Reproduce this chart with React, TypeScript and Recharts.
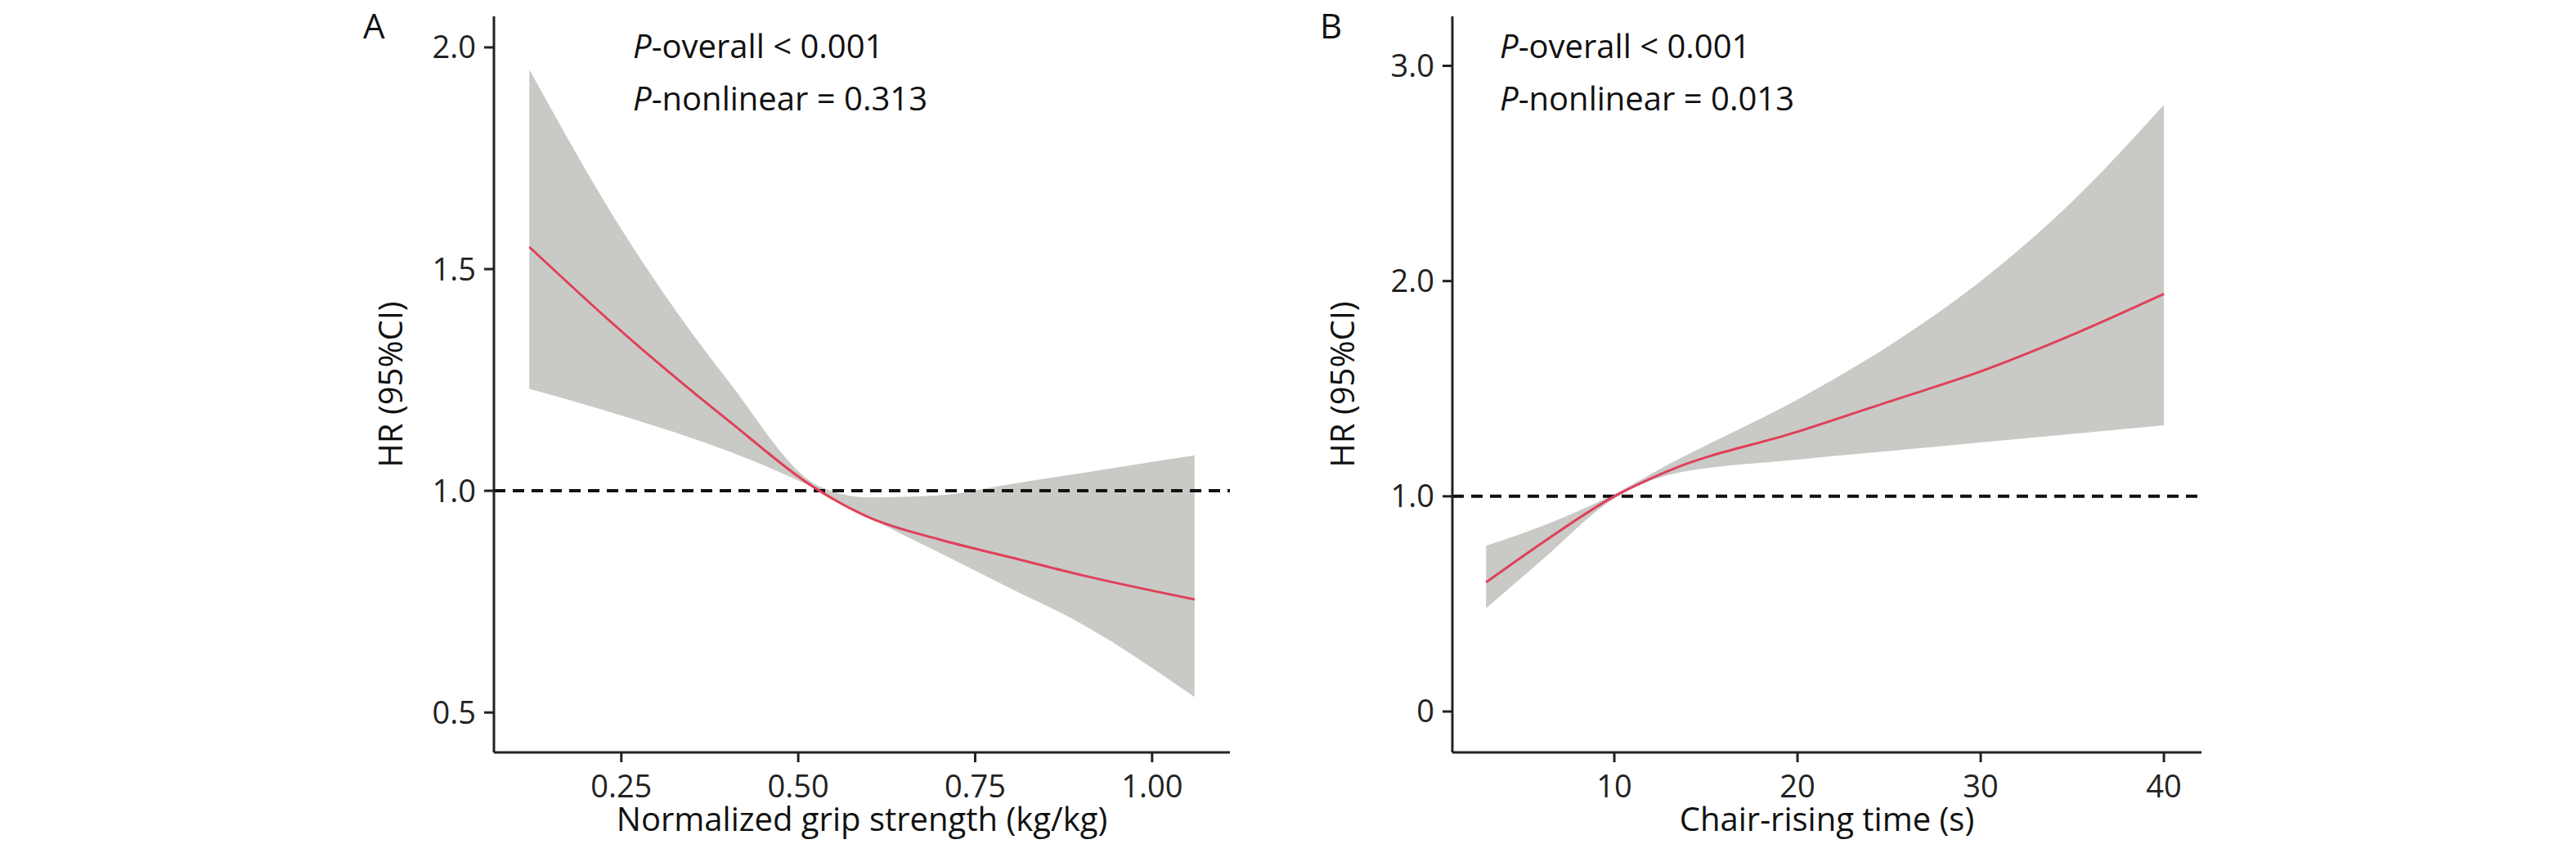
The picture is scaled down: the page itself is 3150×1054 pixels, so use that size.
import { ComposedChart, Area, Line, XAxis, YAxis, ReferenceLine } from "recharts";

const gripX = [0.12, 0.25, 0.4, 0.53, 0.6, 0.7, 0.8, 0.9, 1.06];
const gripHR = [1.55, 1.36, 1.16, 1.0, 0.94, 0.89, 0.85, 0.81, 0.755];
const gripLow = [1.23, 1.17, 1.09, 1.0, 0.94, 0.86, 0.78, 0.7, 0.535];
const gripHigh = [1.95, 1.59, 1.25, 1.01, 0.985, 0.99, 1.015, 1.04, 1.08];

const chairX = [3, 6, 10, 13, 20, 25, 30, 35, 40];
const chairHR = [0.6, 0.78, 1.0, 1.12, 1.3, 1.44, 1.58, 1.75, 1.94];
const chairLow = [0.48, 0.7, 0.99, 1.1, 1.17, 1.21, 1.25, 1.29, 1.33];
const chairHigh = [0.77, 0.86, 1.01, 1.15, 1.45, 1.7, 2.0, 2.37, 2.82];

const gripTicks = [0.25, 0.5, 0.75, 1.0];
const gripYTicks = [0.5, 1.0, 1.5, 2.0];
const chairTicks = [10, 20, 30, 40];
const chairYTicks = [0, 1, 2, 3];

const font = "'Open Sans', sans-serif";

function build(xs: number[], hr: number[], lo: number[], hi: number[]) {
  return xs.map((x, i) => ({ x, hr: hr[i], band: [lo[i], hi[i]] }));
}

function Panel(props: any) {
  const { data, left, width, xDomain, yDomain, xTicks, yTicks, xFmt, yFmt } = props;
  const tick = { fill: "#222", fontSize: 38, fontFamily: font };
  return (
    <div style={{ position: "absolute", left, top: 0 }}>
      <ComposedChart width={width} height={1054} data={data}
        margin={{ top: 20, right: 56, bottom: 120, left: props.plotLeft - 60 }}>
        <XAxis dataKey="x" type="number" domain={xDomain} ticks={xTicks} tickFormatter={xFmt}
          height={14} allowDataOverflow stroke="#222" strokeWidth={3} tickSize={12}
          tick={tick} tickMargin={16} />
        <YAxis type="number" domain={yDomain} ticks={yTicks} tickFormatter={yFmt}
          width={60} allowDataOverflow stroke="#222" strokeWidth={3} tickSize={12}
          tick={tick} tickMargin={10} />
        <Area dataKey="band" type="monotone" fill="#c9cac6" fillOpacity={1} stroke="none" isAnimationActive={false} />
        <ReferenceLine y={1} stroke="#111" strokeWidth={4} strokeDasharray="14 9" />
        <Line dataKey="hr" type="monotone" stroke="#e0405a" strokeWidth={3} dot={false} isAnimationActive={false} />
      </ComposedChart>
    </div>
  );
}

const txt: any = { position: "absolute", fontFamily: font, fontSize: 40, color: "#111", whiteSpace: "nowrap" };

export default function App() {
  return (
    <div style={{ position: "fixed", left: 0, top: 0, width: 3150, height: 1054, background: "#fff" }}>
      <Panel data={build(gripX, gripHR, gripLow, gripHigh)} left={0} width={1560} plotLeft={604}
        xDomain={[0.07, 1.11]} yDomain={[0.41, 2.07]} xTicks={gripTicks} yTicks={gripYTicks}
        xFmt={(v: number) => v.toFixed(2)} yFmt={(v: number) => v.toFixed(1)} />
      <Panel data={build(chairX, chairHR, chairLow, chairHigh)} left={1172} width={1576} plotLeft={604}
        xDomain={[1.16, 42.05]} yDomain={[-0.19, 3.23]} xTicks={chairTicks} yTicks={chairYTicks}
        xFmt={(v: number) => String(v)} yFmt={(v: number) => (v === 0 ? "0" : v.toFixed(1))} />
      <div style={{ ...txt, left: 444, top: 2, fontSize: 42 }}>A</div>
      <div style={{ ...txt, left: 1614, top: 2, fontSize: 42 }}>B</div>
      <div style={{ ...txt, left: 774, top: 28 }}><i>P</i>-overall &lt; 0.001</div>
      <div style={{ ...txt, left: 774, top: 92 }}><i>P</i>-nonlinear = 0.313</div>
      <div style={{ ...txt, left: 1834, top: 28 }}><i>P</i>-overall &lt; 0.001</div>
      <div style={{ ...txt, left: 1834, top: 92 }}><i>P</i>-nonlinear = 0.013</div>
      <div style={{ ...txt, left: 1054, top: 1000, transform: "translate(-50%, -50%)" }}>Normalized grip strength (kg/kg)</div>
      <div style={{ ...txt, left: 2234, top: 1000, transform: "translate(-50%, -50%)" }}>Chair-rising time (s)</div>
      <div style={{ ...txt, left: 476, top: 470, transform: "translate(-50%, -50%) rotate(-90deg)" }}>HR (95%CI)</div>
      <div style={{ ...txt, left: 1640, top: 470, transform: "translate(-50%, -50%) rotate(-90deg)" }}>HR (95%CI)</div>
    </div>
  );
}
